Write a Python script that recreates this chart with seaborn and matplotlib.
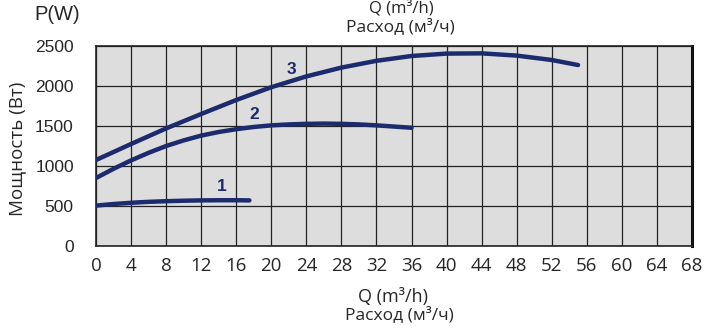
import matplotlib
matplotlib.use("Agg")
import matplotlib.pyplot as plt
import seaborn as sns
import pandas as pd
import numpy as np

# ---- data ----
q1 = [0, 2, 4, 6, 8, 10, 12, 14, 16, 17.5]
p1 = [505, 525, 540, 552, 560, 566, 570, 572, 572, 570]

q2 = [0, 2, 4, 6, 8, 10, 12, 14, 16, 18, 20, 22, 24, 26, 28, 30, 32, 34, 36]
p2 = [850, 965, 1070, 1165, 1250, 1320, 1380, 1425, 1460, 1488, 1508, 1520, 1527, 1530, 1527, 1520, 1508, 1493, 1478]

q3 = [0, 4, 8, 12, 16, 20, 24, 28, 32, 36, 40, 44, 48, 52, 55]
p3 = [1075, 1275, 1470, 1650, 1825, 1985, 2120, 2230, 2315, 2375, 2405, 2408, 2380, 2325, 2262]

curve_labels = ["1", "2", "3"]
x_ticks = list(range(0, 69, 4))
y_ticks = [0, 500, 1000, 1500, 2000, 2500]

df = pd.concat([
    pd.DataFrame({"Q": q1, "P": p1, "curve": "1"}),
    pd.DataFrame({"Q": q2, "P": p2, "curve": "2"}),
    pd.DataFrame({"Q": q3, "P": p3, "curve": "3"}),
], ignore_index=True)

sns.set_theme(style="white")
plt.rcParams["font.family"] = ["Open Sans", "DejaVu Sans"]

navy = "#1c2a6e"
fig = plt.figure(figsize=(7.08, 3.28), dpi=100)
ax = fig.add_axes([96 / 708, 1 - 246 / 328, (692 - 96) / 708, (246 - 46) / 328])
ax.set_facecolor("#dddddd")

sns.lineplot(data=df, x="Q", y="P", hue="curve", palette=[navy] * 3,
             linewidth=3.2, legend=False, ax=ax, sort=False, zorder=3)

ax.set_xlim(0, 68)
ax.set_ylim(0, 2500)
ax.set_xticks(x_ticks)
ax.set_yticks(y_ticks)
ax.grid(True, color="#222222", linewidth=0.9, zorder=1)
ax.set_axisbelow(True)
for s in ["left", "bottom", "top"]:
    ax.spines[s].set_color("#222222")
    ax.spines[s].set_linewidth(1.2)
ax.spines["right"].set_color("#111111")
ax.spines["right"].set_linewidth(2.2)

ax.tick_params(axis="both", length=0)
ax.tick_params(axis="x", pad=8, labelsize=13.5)
ax.tick_params(axis="y", pad=16, labelsize=12.5)
for t in ax.get_yticklabels():
    t.set_family(["Liberation Sans", "DejaVu Sans"])
ax.set_xlabel("")
ax.set_ylabel("")

# curve number labels
label_pos = [(14.3, 740), (18.1, 1640), (22.3, 2200)]
for lab, (x, y) in zip(curve_labels, label_pos):
    ax.text(x, y, lab, color=navy, fontsize=12.5, fontweight="bold",
            ha="center", va="center", family=["Liberation Sans", "DejaVu Sans"])

# texts
fig.text(57 / 708, 1 - 15 / 328, "P(W)", fontsize=14.5, ha="center", va="center",
         family=["Liberation Sans", "DejaVu Sans"])
fig.text(17 / 708, 1 - 149 / 328, "Мощность (Вт)", fontsize=13.5, rotation=90,
         ha="center", va="center")
fig.text(401 / 708, 1 - 8 / 328, "Q (m³/h)", fontsize=12, ha="center", va="center")
fig.text(400 / 708, 1 - 27 / 328, "Расход (м³/ч)", fontsize=12.5, ha="center", va="center")
fig.text(393 / 708, 1 - 297 / 328, "Q (m³/h)", fontsize=13, ha="center", va="center")
fig.text(399 / 708, 1 - 315 / 328, "Расход (м³/ч)", fontsize=12.5, ha="center", va="center")

fig.savefig("out.png", dpi=100, facecolor="white")
